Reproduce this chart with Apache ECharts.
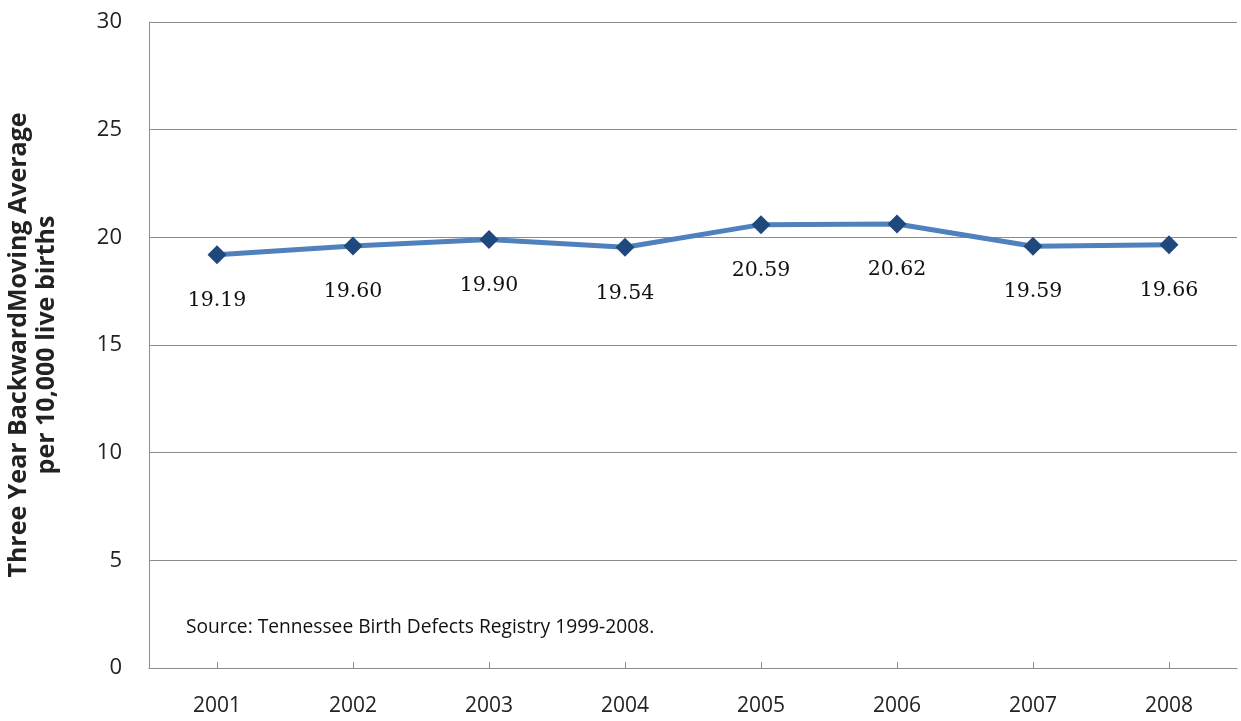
<!DOCTYPE html>
<html>
<head>
<meta charset="utf-8">
<script src="https://cdn.jsdelivr.net/npm/echarts@6/dist/echarts.min.js"></script>
<style>
  html, body { margin: 0; padding: 0; background: #fff; }
  #chart { width: 1241px; height: 721px; }
</style>
</head>
<body>
<div id="chart"></div>
<script>
// Birth defect rates, three-year backward moving average per 10,000 live births
const years = ['2001', '2002', '2003', '2004', '2005', '2006', '2007', '2008'];
const rates = [19.19, 19.60, 19.90, 19.54, 20.59, 20.62, 19.59, 19.66];
const yTicks = [0, 5, 10, 15, 20, 25, 30];
const axisTitle = 'Three Year BackwardMoving Average\nper 10,000 live births';
const sourceNote = 'Source: Tennessee Birth Defects Registry 1999-2008.';

const chart = echarts.init(document.getElementById('chart'), null, { renderer: 'canvas' });

chart.setOption({
  animation: false,
  backgroundColor: '#ffffff',
  grid: { left: 149, right: 4, top: 22, bottom: 53, containLabel: false, outerBoundsMode: 'none' },
  graphic: [{
    type: 'text',
    left: 186,
    top: 618,
    style: {
      text: sourceNote,
      fontFamily: 'Open Sans',
      fontSize: 19.2,
      fill: '#111111'
    }
  }],
  xAxis: {
    type: 'category',
    data: years,
    boundaryGap: true,
    axisLine: { lineStyle: { color: '#8c8c8c', width: 1 } },
    axisTick: { show: true, alignWithLabel: true, inside: true, length: 6, lineStyle: { color: '#8c8c8c' } },
    axisLabel: { fontFamily: 'Open Sans', fontSize: 21, color: '#222222', margin: 28 },
    splitLine: { show: false }
  },
  yAxis: {
    type: 'value',
    min: yTicks[0],
    max: yTicks[yTicks.length - 1],
    interval: 5,
    name: axisTitle,
    nameLocation: 'middle',
    nameGap: 88,
    nameRotate: 90,
    nameTextStyle: {
      fontFamily: 'Open Sans',
      fontWeight: 'bold',
      fontSize: 25,
      color: '#222222',
      lineHeight: 28,
      align: 'center'
    },
    axisLine: { show: true, lineStyle: { color: '#8c8c8c', width: 1 } },
    axisTick: { show: false },
    axisLabel: { fontFamily: 'Open Sans', fontSize: 22, color: '#222222', margin: 27 },
    splitLine: { show: true, lineStyle: { color: '#8c8c8c', width: 1 } }
  },
  series: [{
    type: 'line',
    data: rates,
    symbol: 'diamond',
    symbolSize: [19, 19],
    lineStyle: { color: '#4f81bd', width: 5 },
    itemStyle: { color: '#1f497d' },
    label: {
      show: true,
      position: 'bottom',
      distance: 26,
      formatter: (p) => p.value.toFixed(2),
      fontFamily: 'DejaVu Serif',
      fontSize: 20.5,
      color: '#111111'
    },
    z: 3
  }]
});
</script>
</body>
</html>
